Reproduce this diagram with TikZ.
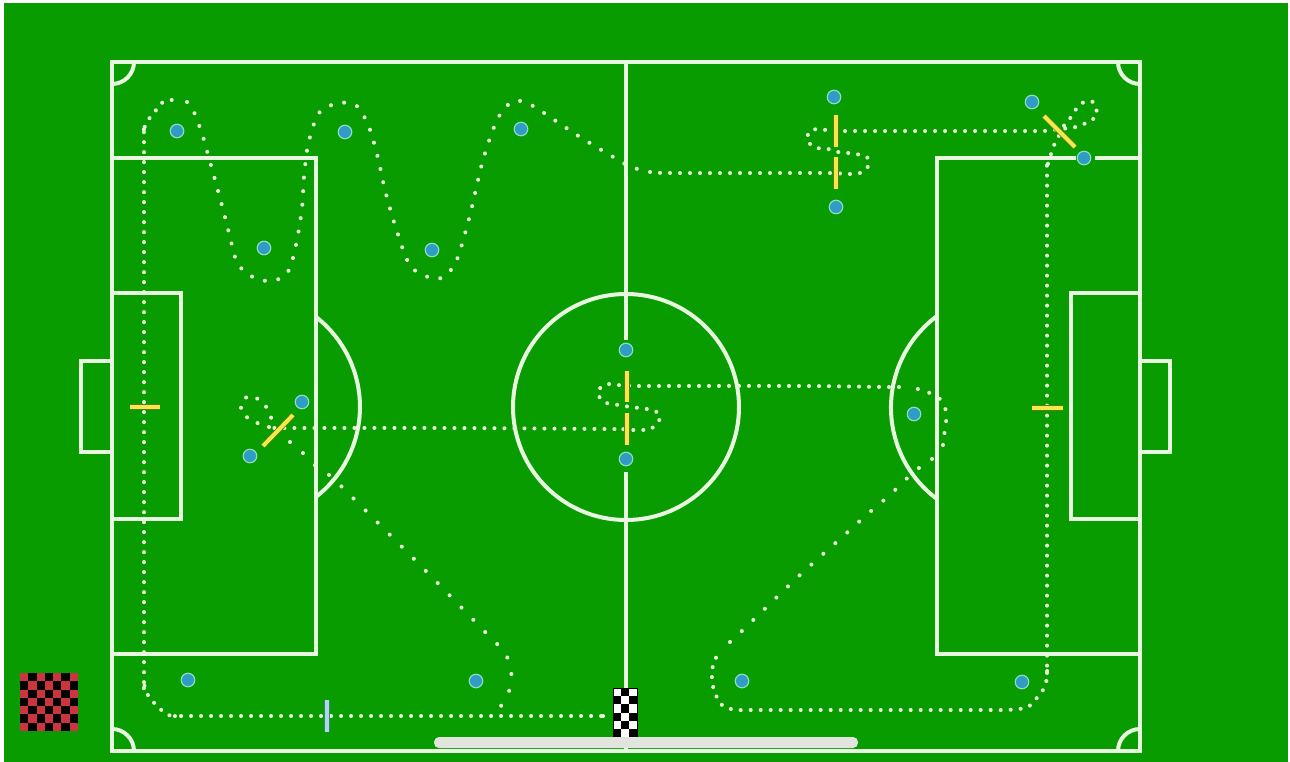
\documentclass[tikz,border=0pt]{standalone}
\definecolor{pitch}{HTML}{089C00}
\definecolor{chalk}{HTML}{E8F8E0}
\definecolor{dotc}{HTML}{E6F8D8}
\definecolor{barY}{HTML}{F4E84C}
\definecolor{barB}{HTML}{A8DCE4}
\definecolor{edgeD}{HTML}{5C7A10}
\definecolor{edgeB}{HTML}{3F7F70}
\definecolor{playerF}{HTML}{2E9CC4}
\definecolor{playerE}{HTML}{8CDCC0}
\definecolor{redC}{HTML}{CC3440}
\definecolor{scrollC}{HTML}{E2E4DE}
\tikzset{
  fieldline/.style={draw=chalk,line width=4pt,line join=miter},
  trail/.style={draw=dotc,line width=4pt,line cap=round,line join=round,dash pattern=on 0.05pt off #1},
  gatebar/.style={draw=edgeD,line width=5.5pt,line cap=butt,postaction={draw=barY,line width=4pt}},
  startbar/.style={draw=edgeB,line width=5.5pt,line cap=butt,postaction={draw=barB,line width=4pt}},
  player/.style={circle,fill=playerF,draw=playerE,line width=1.2pt,minimum size=13.5pt,inner sep=0pt},
}
\begin{document}
\begin{tikzpicture}[x=1pt,y=-1pt]
\useasboundingbox (0,0) rectangle (1290,762);
\fill[white] (0,0) rectangle (1290,762);
\fill[pitch] (4,3) rectangle (1288,762);
% field
\draw[fieldline] (112,62) rectangle (1140,751);
\draw[fieldline] (626,62) -- (626,340);
\draw[fieldline] (626,472) -- (626,751);
\draw[fieldline] (626,407) circle[radius=113pt];
% left end
\draw[fieldline] (112,158) -- (316,158) -- (316,654) -- (112,654);
\draw[fieldline] (112,293) -- (181,293) -- (181,519) -- (112,519);
\draw[fieldline] (112,361) -- (81,361) -- (81,452) -- (112,452);
\draw[fieldline] (316,317) arc[start angle=52.1,end angle=-52.1,radius=114pt];
% right end
\draw[fieldline] (1076,158) -- (937,158) -- (937,654) -- (1140,654);
\draw[fieldline] (1095,158) -- (1140,158);
\draw[fieldline] (1140,293) -- (1071,293) -- (1071,519) -- (1140,519);
\draw[fieldline] (1140,361) -- (1170,361) -- (1170,452) -- (1140,452);
\draw[fieldline] (937,316) arc[start angle=126.6,end angle=233.4,radius=114pt];
% corners
\draw[fieldline] (134,62) arc[start angle=0,end angle=-90,radius=22pt];
\draw[fieldline] (1118,62) arc[start angle=180,end angle=270,radius=22pt];
\draw[fieldline] (134,751) arc[start angle=0,end angle=90,radius=22pt];
\draw[fieldline] (1118,751) arc[start angle=180,end angle=90,radius=22pt];
% trail
\draw[trail=9.95pt] plot[smooth,tension=0.5] coordinates {
 (603,716) (590,716) (400,716) (190,716) (177,716) (168,715) (157,706) (151,699) (146,692) (144,682) (144,670) (144,400) (144,145) (144,133)
 (146,123) (157,109) (163,102) (178,99) };
\draw[trail=13.5pt] plot[smooth,tension=0.5] coordinates {
 (187,102) (194,112) (199,125) (204,140)
 (212,169) (220,198) (228,229) (236,260) (244,271) (255,278) (268,281) (281,278) (290,268)
 (297,240) (302,208) (304,177) (308,145) (317,116) (326,108) (337,103) (347,103) (358,107)
 (369,127) (378,158) (385,190) (394,222) (404,252) (411,267) (423,275) (438,279) (450,271)
 (458,257) (470,215) (483,160) (497,120) (510,103) (521,101) (535,107) (550,117) (580,137) (615,158)
 (627,165) (640,170) };
\draw[trail=9.95pt] plot[smooth,tension=0.5] coordinates {
 (650,172) (670,173) (780,173) (828,173) (850,174) (860,173) (867,168) (869,163) (867,157)
 (856,154) (848,153) (838,152) (828,149) (817,148) (811,145) (807,139) (810,131) (818,129)
 (826,130) (841,131) (855,131) (950,131) (1030,131) (1043,131) (1058,129) (1067,123) (1072,115) (1077,108) (1084,102)
 (1093,102) (1097,115) (1088,122) (1076,127) (1064,129) (1056,141) (1052,151) (1047,168)
 (1047,182) (1047,400) (1047,655) (1047,667) (1047,677) (1045,686) (1041,693) (1035,700) (1028,707) (1019,709) (1005,710)
 (990,710) (870,710) (750,710) (735,710) (722,705) (715,693) (712,680) (713,665) (718,654) };
\draw[trail=16pt] plot[smooth,tension=0.5] coordinates {
 (730,642) (745,628) (800,575) (850,530) (863,518) (877,506) (891,494) (903,482) (915,471) (926,463) (935,457) };
\draw[trail=12pt] plot[smooth,tension=0.5] coordinates {
 (943,445) (944,436) (946,423) (946,411) (940,399) (925,391) (913,388) };
\draw[trail=9.95pt] plot[smooth,tension=0.5] coordinates {
 (899,387) (885,387) (800,386) (650,386) (633,386) (617,385) (609,384)
 (601,387) (598,394) (602,400) (609,404) (620,405) (630,407) (640,408) (647,409) (655,411) (659,414)
 (660,419) (656,424) (651,429) (642,430) (633,430) (620,429) (605,429) (450,428) (290,428) (275,428) };
\draw[trail=12pt] plot[smooth,tension=0.5] coordinates {
 (269,427) (255,422) (242,413) (242,402) (249,396) (258,399) (267,408) (273,423) };
\draw[trail=17pt] plot[smooth,tension=0.5] coordinates {
 (290,442) (304,454) (317,467) (332,477) (345,490) (420,565) (490,637) (504,651) (511,669) (510,688) (502,705) (488,713) };
% gates
\draw[gatebar] (627,371) -- (627,402);
\draw[gatebar] (627,413) -- (627,445);
\draw[gatebar] (836,115) -- (836,147);
\draw[gatebar] (836,157) -- (836,189);
\draw[gatebar] (1044,116) -- (1075,147);
\draw[gatebar] (263,446) -- (293,415);
\draw[gatebar] (130,407) -- (160,407);
\draw[gatebar] (1032,408) -- (1063,408);
\draw[startbar] (327,700) -- (327,732);
% players
\node[player] (p1) at (177,131) {};
\node[player] (p2) at (264,248) {};
\node[player] (p3) at (345,132) {};
\node[player] (p4) at (432,250) {};
\node[player] (p5) at (521,129) {};
\node[player] (p6) at (834,97) {};
\node[player] (p7) at (836,207) {};
\node[player] (p8) at (1032,102) {};
\node[player] (p9) at (1084,158) {};
\node[player] (p10) at (626,350) {};
\node[player] (p11) at (626,459) {};
\node[player] (p12) at (302,402) {};
\node[player] (p13) at (250,456) {};
\node[player] (p14) at (914,414) {};
\node[player] (p15) at (188,680) {};
\node[player] (p16) at (476,681) {};
\node[player] (p17) at (742,681) {};
\node[player] (p18) at (1022,682) {};
% finish flag
\fill[white] (613,688) rectangle (637,737);
\foreach \r in {0,...,5}{\foreach \c in {0,1,2}{
  \pgfmathtruncatemacro{\odd}{mod(\r+\c,2)}
  \ifnum\odd=1 \fill[black] ({613+8*\c},{688+8.17*\r}) rectangle ({621+8*\c},{696.17+8.17*\r}); \fi
}}
\draw[black,line width=.6pt] (613,688) rectangle (637,737);
% scroll bar
\fill[scrollC,rounded corners=5pt] (434,737) rectangle (858,748);
% checker board
\fill[black] (20,673) rectangle (78,731);
\foreach \r in {0,...,6}{\foreach \c in {0,...,6}{
  \pgfmathtruncatemacro{\odd}{mod(\r+\c,2)}
  \ifnum\odd=0 \fill[redC] ({20+8.286*\c},{673+8.286*\r}) rectangle ({28.286+8.286*\c},{681.286+8.286*\r}); \fi
}}
\end{tikzpicture}
\end{document}
